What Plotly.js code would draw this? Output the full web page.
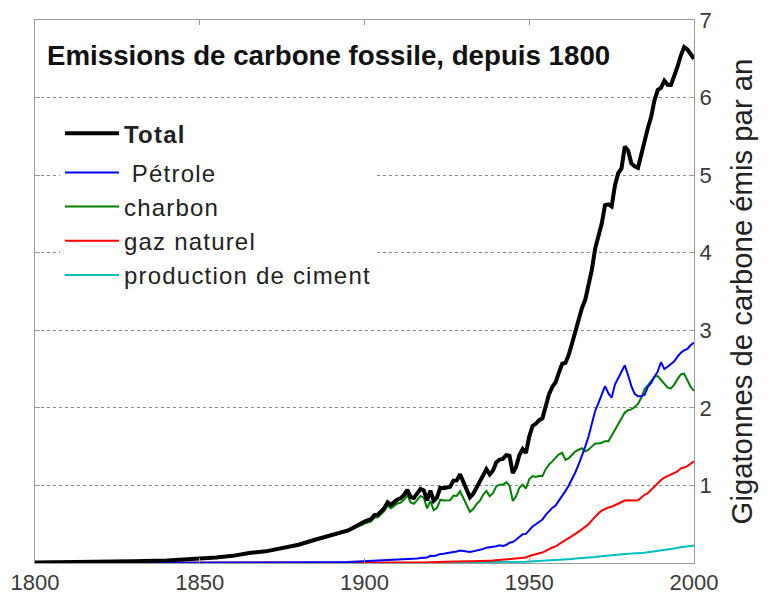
<!DOCTYPE html>
<html>
<head>
<meta charset="utf-8">
<script src="https://cdn.plot.ly/plotly-3.0.1.min.js"></script>
<style>
html,body{margin:0;padding:0;background:#fff;}
.legendtext{letter-spacing:1.2px;}
</style>
</head>
<body>
<div id="chart" style="width:776px;height:594px;"></div>
<script>
// Years: sparse before 1900, annual from 1900 to 2000
const years = [1800,1810,1820,1830,1840,1850,1855,1860,1865,1870,1875,1880,1885,1890,1895,
  1900,1901,1902,1903,1904,1905,1906,1907,1908,1909,
  1910,1911,1912,1913,1914,1915,1916,1917,1918,1919,
  1920,1921,1922,1923,1924,1925,1926,1927,1928,1929,
  1930,1931,1932,1933,1934,1935,1936,1937,1938,1939,
  1940,1941,1942,1943,1944,1945,1946,1947,1948,1949,
  1950,1951,1952,1953,1954,1955,1956,1957,1958,1959,
  1960,1961,1962,1963,1964,1965,1966,1967,1968,1969,
  1970,1971,1972,1973,1974,1975,1976,1977,1978,1979,
  1980,1981,1982,1983,1984,1985,1986,1987,1988,1989,
  1990,1991,1992,1993,1994,1995,1996,1997,1998,1999,
  2000];

// Gigatonnes of carbon per year
const total = [0.008,0.010,0.014,0.024,0.033,0.054,0.072,0.092,0.130,0.150,0.190,0.236,0.300,0.360,0.420,
  0.534,0.552,0.566,0.617,0.624,0.663,0.707,0.784,0.750,0.785,
  0.819,0.836,0.879,0.943,0.850,0.838,0.901,0.955,0.936,0.806,
  0.932,0.803,0.845,0.970,0.963,0.975,0.983,1.062,1.065,1.145,
  1.053,0.940,0.847,0.893,0.973,1.027,1.130,1.209,1.142,1.192,
  1.299,1.334,1.342,1.391,1.383,1.160,1.238,1.392,1.469,1.419,
  1.630,1.767,1.795,1.841,1.865,2.042,2.177,2.270,2.330,2.454,
  2.569,2.580,2.686,2.833,2.995,3.130,3.288,3.393,3.566,3.780,
  4.053,4.208,4.376,4.614,4.623,4.596,4.864,5.026,5.087,5.369,
  5.315,5.152,5.113,5.094,5.280,5.439,5.607,5.752,5.965,6.097,
  6.127,6.217,6.164,6.162,6.266,6.398,6.542,6.651,6.620,6.550,
  6.500];

const petrole = [0,0,0,0,0,0,0,0,0.001,0.001,0.002,0.003,0.005,0.009,0.012,
  0.023,0.023,0.024,0.026,0.027,0.027,0.029,0.032,0.033,0.035,
  0.037,0.040,0.043,0.047,0.049,0.053,0.058,0.064,0.066,0.071,
  0.092,0.091,0.100,0.117,0.118,0.123,0.128,0.142,0.148,0.160,
  0.156,0.150,0.143,0.150,0.158,0.166,0.180,0.198,0.200,0.210,
  0.215,0.228,0.220,0.232,0.262,0.270,0.300,0.335,0.370,0.375,
  0.423,0.47,0.50,0.53,0.56,0.62,0.67,0.71,0.74,0.80,
  0.87,0.93,1.00,1.08,1.17,1.27,1.38,1.50,1.63,1.78,
  1.96,2.06,2.17,2.28,2.19,2.13,2.30,2.38,2.45,2.55,
  2.42,2.28,2.18,2.15,2.15,2.17,2.27,2.32,2.40,2.47,
  2.59,2.50,2.53,2.56,2.60,2.66,2.71,2.74,2.76,2.81,
  2.84];

const charbon = [0.008,0.010,0.014,0.024,0.033,0.054,0.072,0.092,0.129,0.149,0.188,0.233,0.295,0.351,0.408,
  0.507,0.524,0.537,0.585,0.590,0.628,0.668,0.740,0.705,0.736,
  0.768,0.780,0.818,0.876,0.780,0.762,0.818,0.864,0.842,0.704,
  0.800,0.680,0.710,0.815,0.805,0.810,0.810,0.870,0.865,0.925,
  0.840,0.740,0.660,0.695,0.760,0.800,0.880,0.930,0.860,0.900,
  0.990,1.010,1.010,1.040,1.000,0.800,0.860,0.970,1.010,0.960,
  1.080,1.12,1.11,1.12,1.12,1.21,1.27,1.31,1.36,1.40,
  1.42,1.33,1.35,1.40,1.44,1.46,1.48,1.44,1.46,1.50,
  1.54,1.54,1.55,1.57,1.57,1.64,1.72,1.80,1.86,1.94,
  1.97,1.98,2.01,2.05,2.13,2.24,2.29,2.35,2.40,2.41,
  2.36,2.30,2.26,2.25,2.30,2.37,2.43,2.44,2.36,2.27,
  2.22];

const gaz = [0,0,0,0,0,0,0,0,0,0,0,0,0,0,0,
  0.003,0.003,0.003,0.004,0.004,0.004,0.005,0.005,0.005,0.006,
  0.006,0.006,0.007,0.007,0.007,0.008,0.008,0.009,0.009,0.009,
  0.010,0.010,0.011,0.013,0.014,0.015,0.016,0.018,0.020,0.023,
  0.024,0.022,0.021,0.021,0.023,0.024,0.026,0.029,0.029,0.031,
  0.035,0.037,0.039,0.043,0.047,0.048,0.050,0.057,0.065,0.070,
  0.090,0.105,0.115,0.125,0.135,0.160,0.180,0.200,0.215,0.240,
  0.265,0.290,0.315,0.345,0.375,0.405,0.435,0.465,0.500,0.550,
  0.600,0.640,0.675,0.700,0.715,0.725,0.745,0.760,0.780,0.805,
  0.810,0.805,0.805,0.810,0.850,0.880,0.900,0.945,0.990,1.030,
  1.070,1.100,1.120,1.140,1.150,1.180,1.220,1.230,1.250,1.280,
  1.310];

const ciment = [0,0,0,0,0,0,0,0,0,0,0,0,0,0,0,
  0,0,0,0,0,0,0,0,0,0,
  0,0,0,0,0,0,0,0,0,0,
  0,0,0,0,0,0,0,0,0.010,0.010,
  0.010,0.009,0.007,0.008,0.009,0.010,0.012,0.013,0.013,0.014,
  0.014,0.014,0.013,0.011,0.010,0.008,0.011,0.013,0.015,0.016,
  0.018,0.020,0.022,0.024,0.026,0.030,0.032,0.034,0.036,0.040,
  0.043,0.045,0.049,0.051,0.057,0.059,0.063,0.065,0.070,0.074,
  0.078,0.084,0.089,0.095,0.095,0.096,0.103,0.108,0.116,0.119,
  0.120,0.121,0.121,0.125,0.128,0.131,0.137,0.143,0.152,0.156,
  0.157,0.161,0.167,0.176,0.186,0.197,0.203,0.209,0.209,0.217,
  0.225];

const xTicks = [1800, 1850, 1900, 1950, 2000];
const yTicks = [1, 2, 3, 4, 5, 6, 7];

const FONT = 'Liberation Sans, Arial, Helvetica, sans-serif';

// draw order: cement, gas, coal, oil, total (on top)
const traces = [
  {x: years, y: ciment, name: 'production de ciment', mode: 'lines', line: {color: '#00bfbf', width: 2}, legendrank: 5, legendgroup: 'b'},
  {x: years, y: gaz, name: 'gaz naturel', mode: 'lines', line: {color: '#ff0000', width: 2}, legendrank: 4, legendgroup: 'b'},
  {x: years, y: charbon, name: 'charbon', mode: 'lines', line: {color: '#008000', width: 2}, legendrank: 3, legendgroup: 'b'},
  {x: years, y: petrole, name: '\u00a0Pétrole', mode: 'lines', line: {color: '#0000ff', width: 2}, legendrank: 2, legendgroup: 'b'},
  {x: years, y: total, name: '<b>Total</b>', mode: 'lines', line: {color: '#000000', width: 4}, legendrank: 1, legendgroup: 'a'}
];

const layout = {
  width: 776, height: 594,
  margin: {l: 35, r: 82, t: 20, b: 31, pad: 0},
  paper_bgcolor: '#ffffff', plot_bgcolor: '#ffffff',
  font: {family: FONT, color: '#222'},
  showlegend: true,
  hovermode: false,
  title: {
    text: '<b>Emissions de carbone fossile, depuis 1800</b>',
    font: {family: FONT, size: 27.7, color: '#111'},
    xref: 'container', yref: 'container',
    x: 47 / 776, xanchor: 'left',
    y: 1 - 55 / 594, yanchor: 'middle'
  },
  xaxis: {
    range: [1800, 2000],
    tickvals: xTicks,
    ticktext: xTicks.map(String),
    showgrid: false, zeroline: false,
    showline: true, linecolor: '#9a9a9a', linewidth: 1, mirror: 'ticks',
    ticks: 'inside', ticklen: 5, tickcolor: '#9a9a9a',
    tickfont: {family: FONT, size: 22, color: '#3a3a3a'},
    fixedrange: true
  },
  yaxis: {
    range: [0, 7],
    side: 'right',
    tickvals: yTicks,
    ticktext: yTicks.map(String),
    showgrid: true, gridcolor: '#8a8a8a', gridwidth: 1, griddash: 'dot',
    zeroline: false,
    showline: true, linecolor: '#9a9a9a', linewidth: 1, mirror: 'ticks',
    ticks: 'inside', ticklen: 5, tickcolor: '#9a9a9a',
    tickfont: {family: FONT, size: 22, color: '#3a3a3a'},
    title: {text: 'Gigatonnes de carbone émis par an', font: {family: FONT, size: 29.3, color: '#222'}, standoff: 20},
    fixedrange: true
  },
  legend: {
    x: (60 - 35) / 659, y: (562.5 - 111) / 542.5,
    xanchor: 'left', yanchor: 'top',
    bgcolor: '#ffffff', borderwidth: 0,
    font: {family: FONT, size: 24, color: '#222'},
    traceorder: 'grouped', tracegroupgap: 5,
    itemwidth: 54
  }
};

Plotly.newPlot('chart', traces, layout, {displayModeBar: false, staticPlot: true});
</script>
</body>
</html>
